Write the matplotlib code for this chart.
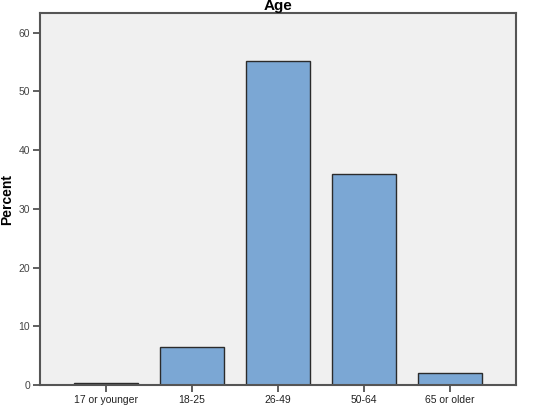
import numpy as np
from matplotlib import pyplot as plt

plt.rcParams['font.family'] = ['Liberation Sans', 'DejaVu Sans']

categories = ['17 or younger', '18-25', '26-49', '50-64', '65 or older']
percent = [0.4, 6.5, 55.2, 36.0, 2.0]
yticks = [0, 10, 20, 30, 40, 50, 60]

fig = plt.figure(figsize=(5.46, 4.12), dpi=100)
ax = fig.add_axes([0.0733, 0.0655, 0.8717, 0.9025])
ax.set_facecolor('#f0f0f0')

x = np.arange(len(categories))
ax.bar(x, percent, width=0.745, color='#7ba7d4', edgecolor='#2b2b2b', linewidth=1.0)

ax.set_xlim(-0.767, 4.767)
ax.set_ylim(0, 63.3)
ax.set_xticks(x)
ax.set_xticklabels(categories, fontsize=7.5, color='#222222')
ax.set_yticks(yticks)
ax.set_yticklabels([str(t) for t in yticks], fontsize=7.5, color='#444444')
ax.tick_params(axis='both', direction='out', length=5, width=1.2, color='#444444', pad=2)

for s in ax.spines.values():
    s.set_color('#555555')
    s.set_linewidth(1.5)

ax.set_ylabel('Percent', fontsize=10, fontweight='bold')
ax.yaxis.set_label_coords(-0.055, 0.5)
ax.set_title('Age', fontsize=11, fontweight='bold', pad=1)

fig.savefig('out.png', dpi=100)
